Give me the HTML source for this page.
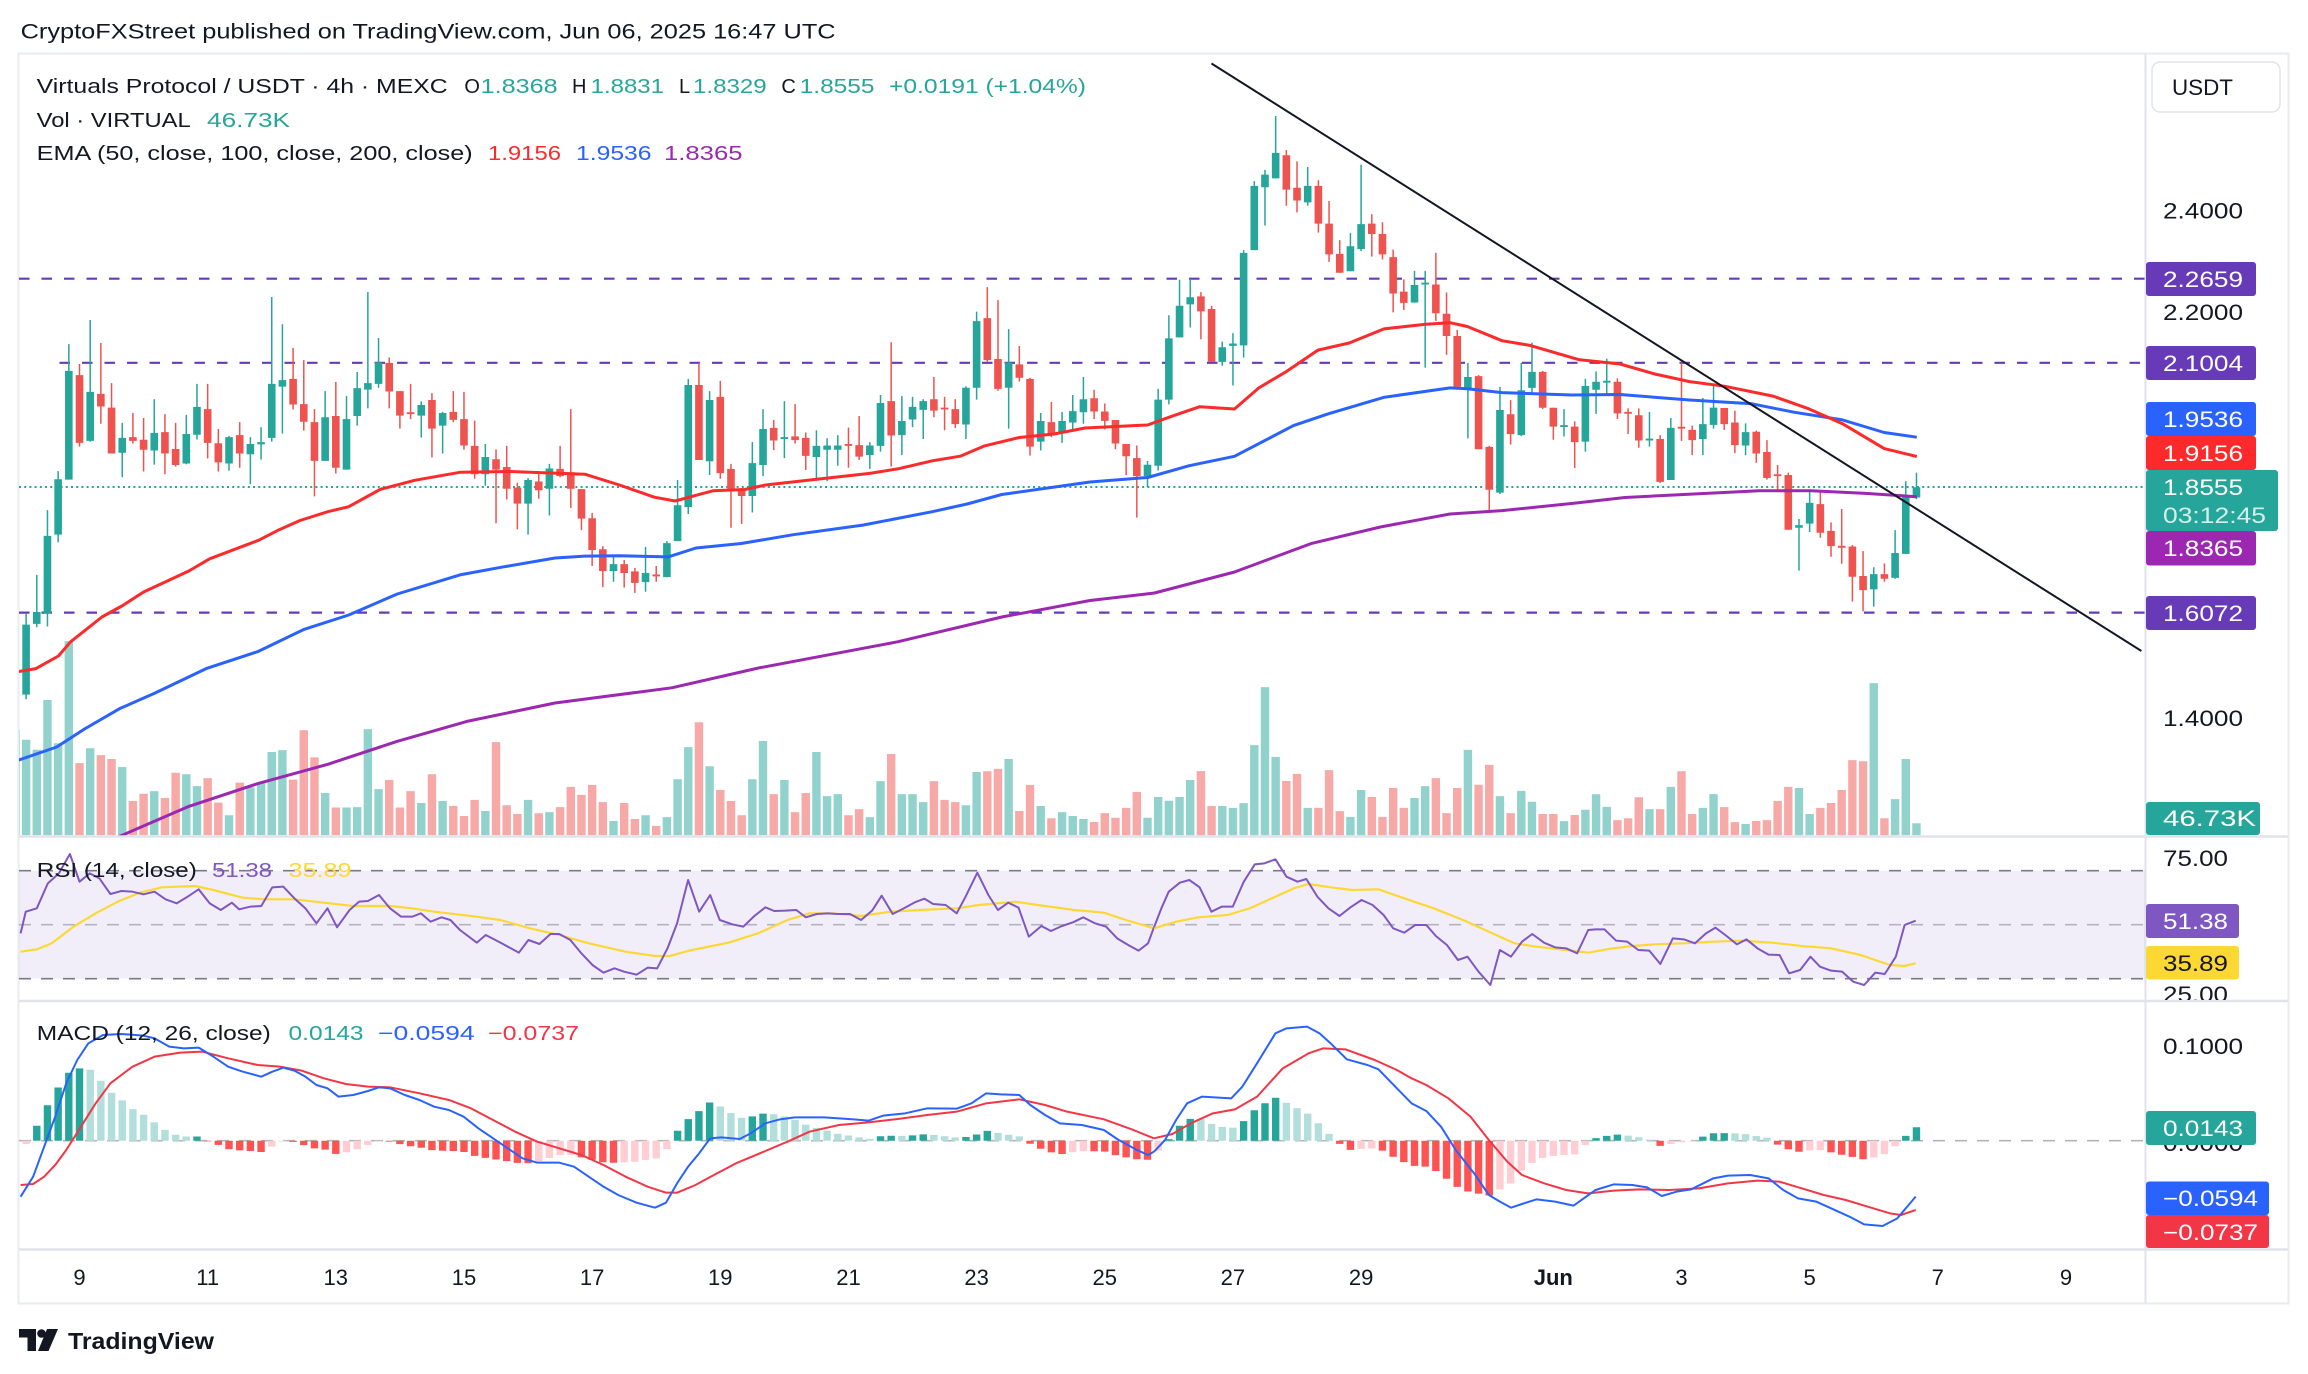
<!DOCTYPE html>
<html><head><meta charset="utf-8">
<style>
html,body{margin:0;padding:0;background:#fff;}
svg{display:block;}
text{font-family:"Liberation Sans",Arial,sans-serif;}
.ns{vector-effect:non-scaling-stroke;fill:none;}
</style></head>
<body>
<svg width="2308" height="1374" viewBox="0 0 2308 1374" xmlns="http://www.w3.org/2000/svg">
<defs>
<clipPath id="cm"><rect x="19" y="54" width="2126" height="782"/></clipPath>
<clipPath id="cr"><rect x="19" y="838" width="2126" height="162"/></clipPath>
<clipPath id="cd"><rect x="19" y="1002" width="2126" height="246"/></clipPath>
<clipPath id="cra"><rect x="2146" y="838" width="142" height="162"/></clipPath>
</defs>
<rect width="2308" height="1374" fill="#fff"/>
<text x="20.6" y="38.5" font-size="21" textLength="815" lengthAdjust="spacingAndGlyphs" fill="#131722">CryptoFXStreet published on TradingView.com, Jun 06, 2025 16:47 UTC</text>

<rect x="18.5" y="53.5" width="2270" height="1250" fill="none" stroke="#e9ebf0" stroke-width="2"/>
<line x1="2145.5" y1="54" x2="2145.5" y2="1303" stroke="#e0e3eb" stroke-width="2"/>

<!-- RSI band -->
<rect x="19" y="870.7" width="2126" height="108" fill="#7e57c2" fill-opacity="0.1"/>
<line x1="19" y1="870.7" x2="2145" y2="870.7" stroke="#787b86" stroke-width="1.6" stroke-dasharray="12 10"/>
<line x1="19" y1="924.7" x2="2145" y2="924.7" stroke="#b2b5be" stroke-width="1.6" stroke-dasharray="12 10"/>
<line x1="19" y1="978.7" x2="2145" y2="978.7" stroke="#787b86" stroke-width="1.6" stroke-dasharray="12 10"/>
<line x1="19" y1="1140.7" x2="2145" y2="1140.7" stroke="#b2b5be" stroke-width="1.6" stroke-dasharray="12 10"/>

<g clip-path="url(#cm)">
 <!-- volume -->
 <g transform="translate(26.1,240) scale(10.68,0.3827)">
  <path class="ns" stroke="#92d2cc" stroke-width="8.4" d="M-1 1280V1555M0 1306V1555M1 1332V1555M2 1202V1555M3 1315V1555M4 1048V1555M6 1328V1555M9 1377V1555M12 1440V1555M15 1396V1555M16 1427V1555M19 1503V1555M21 1430V1555M22 1418V1555M23 1338V1555M24 1333V1555M28 1445V1555M30 1483V1555M31 1482V1555M32 1278V1555M33 1435V1555M37 1471V1555M39 1466V1555M43 1492V1555M47 1463V1555M49 1495V1555M55 1518V1555M58 1503V1555M60 1508V1555M61 1409V1555M62 1325V1555M64 1375V1555M68 1409V1555M69 1309V1555M71 1411V1555M74 1338V1555M75 1453V1555M76 1448V1555M79 1508V1555M80 1414V1555M82 1448V1555M83 1448V1555M84 1469V1555M88 1477V1555M89 1390V1555M92 1356V1555M95 1479V1555M97 1495V1555M98 1505V1555M99 1513V1555M152 1487V1555M154 1429V1555M157 1484V1555M158 1448V1555M161 1526V1555M166 1432V1555M167 1500V1555M173 1158V1555M175 1461V1555M176 1356V1555M177 1524V1555"/>
  <path class="ns" stroke="#f7a9a7" stroke-width="8.4" d="M5 1367V1555M7 1346V1555M8 1356V1555M10 1466V1555M11 1447V1555M13 1458V1555M14 1392V1555M17 1406V1555M18 1470V1555M20 1418V1555M25 1410V1555M26 1281V1555M27 1352V1555M29 1483V1555M34 1411V1555M35 1483V1555M36 1440V1555M38 1396V1555M40 1479V1555M41 1505V1555M42 1463V1555M44 1312V1555M45 1477V1555M46 1500V1555M48 1498V1555M50 1482V1555M51 1429V1555M52 1450V1555M53 1424V1555M54 1469V1555M56 1471V1555M57 1513V1555M59 1531V1555M63 1260V1555M65 1437V1555M66 1466V1555M67 1503V1555M70 1448V1555M72 1495V1555M73 1445V1555M77 1503V1555M78 1487V1555M81 1343V1555M85 1414V1555M86 1463V1555M87 1469V1555M90 1388V1555M91 1382V1555M93 1492V1555M94 1424V1555M96 1511V1555M150 1511V1555M151 1456V1555M153 1487V1555M155 1388V1555M156 1500V1555M159 1482V1555M160 1521V1555M162 1518V1555M163 1516V1555M164 1466V1555M165 1429V1555M168 1484V1555M169 1471V1555M170 1437V1555M171 1359V1555M172 1362V1555M174 1511V1555"/>
 </g>
 <g transform="translate(26.1,100) scale(10.68,0.47192)">
  <path class="ns" stroke="#92d2cc" stroke-width="8.4" d="M105 1521V1558M106 1477V1558M107 1485V1558M108 1477V1558M109 1441V1558M112 1496V1558M113 1500V1558M114 1490V1558M115 1367V1558M116 1244V1558M117 1392V1558M120 1500V1558M124 1519V1558M125 1462V1558M130 1479V1558M131 1454V1558M135 1377V1558M138 1475V1558M140 1464V1558M141 1487V1558M144 1528V1558M146 1504V1558M147 1471V1558M148 1498V1558"/>
  <path class="ns" stroke="#f7a9a7" stroke-width="8.4" d="M100 1530V1558M101 1511V1558M102 1521V1558M103 1500V1558M104 1466V1558M110 1422V1558M111 1496V1558M118 1443V1558M119 1428V1558M121 1500V1558M122 1420V1558M123 1507V1558M126 1477V1558M127 1519V1558M128 1458V1558M129 1500V1558M132 1437V1558M133 1511V1558M134 1458V1558M136 1451V1558M137 1409V1558M139 1511V1558M142 1513V1558M143 1513V1558M145 1515V1558M149 1526V1558"/>
 </g>

 <line x1="19" y1="278.7" x2="2145" y2="278.7" stroke="#673ab7" stroke-width="2.2" stroke-dasharray="10.5 12"/>
 <line x1="59.5" y1="362.8" x2="2145" y2="362.8" stroke="#673ab7" stroke-width="2.2" stroke-dasharray="10.5 12"/>
 <line x1="19" y1="612.6" x2="2145" y2="612.6" stroke="#673ab7" stroke-width="2.2" stroke-dasharray="10.5 12"/>
 <line x1="19" y1="487" x2="2145" y2="487" stroke="#26a69a" stroke-width="2" stroke-dasharray="2 3.2"/>

 <!-- candles -->
 <g transform="translate(26.1,240) scale(10.68,0.3827)">
  <path class="ns" stroke="#26a69a" stroke-width="1.5" d="M0 975V1200M1 875V1012M2 706V1010M3 604V790M4 272V626M6 209V527M9 478V620M12 416V587M15 457V586M16 376V521M19 512V603M21 515V638M22 489V574M23 149V527M24 220V506M28 395V577M30 408V600M31 345V485M32 136V440M33 256V386M37 422V516M39 449V558M43 533V642M47 622V770M49 585V720M55 828V893M58 802V919M60 787V881M61 627V787M62 363V716M64 395V614M68 528V712M69 442V617M71 421V570M74 497V630M75 518V630M76 510V590M79 528V598M80 405V553M82 408V562M83 410V489M84 416V520M88 382V520M89 187V417M92 233V493M95 452V550M97 449V530M98 405V500M99 358V480M152 449V540M154 465V627M157 413V562M158 380V493M161 479V562M166 729V864M167 656V763M173 855V958M175 758V885M176 630V820M177 608V677"/>
  <path class="ns" stroke="#26a69a" stroke-width="7.6" d="M0 1005V1188M1 972V1003M2 773V976M3 625V770M4 342V626M6 397V525M9 517V556M12 504V550M15 507V584M16 436V509M19 515V584M21 533V560M22 528V534M23 376V517M24 366V383M28 463V577M30 468V600M31 387V460M32 374V391M33 320V376M37 431V459M39 452V485M43 567V612M47 627V689M49 597V650M55 847V865M58 870V894M60 792V881M61 693V787M62 379V698M64 418V578M68 583V669M69 494V588M71 515V520M74 538V567M75 537V548M76 537V548M79 537V562M80 426V538M82 473V510M83 436V469M84 421V444M88 386V482M89 212V386M92 320V386M95 473V527M97 473V502M98 447V477M99 416V450M152 519V524M154 491V627M157 481V520M158 438V483M161 502V537M166 745V752M167 687V741M173 873V913M175 818V883M176 672V820M177 646V673"/>
  <path class="ns" stroke="#ef5350" stroke-width="1.5" d="M5 324V540M7 269V480M8 374V558M10 452V532M11 465V605M13 455V612M14 478V592M17 376V571M18 494V605M20 476V595M25 282V443M26 314V498M27 442V670M29 371V610M34 307V440M35 395V493M36 376V468M38 400V568M40 395V476M41 397V548M42 472V624M44 547V740M45 538V678M46 634V756M48 604V676M50 538V620M51 442V700M52 651V758M53 713V852M54 800V907M56 836V908M57 857V922M59 852V893M63 321V575M65 368V624M66 585V752M67 648V742M70 470V549M72 429V532M73 503V601M77 490V595M78 460V575M81 267V592M85 358V463M86 410V497M87 416V491M90 123V318M91 157V394M93 277V370M94 360V563M96 423V515M150 440V507M151 440V543M153 510V635M155 320V525M156 485V562M159 439V496M160 446V557M162 498V582M163 523V626M164 588V656M165 608V757M168 655V778M169 738V828M170 703V846M171 797V945M172 813V970M174 845V893"/>
  <path class="ns" stroke="#ef5350" stroke-width="7.6" d="M5 353V530M7 402V435M8 438V558M10 515V525M11 522V548M13 502V558M14 546V588M17 442V530M18 531V581M20 510V558M25 363V430M26 429V475M27 476V577M29 460V595M34 321V396M35 395V459M36 450V455M38 418V493M40 449V470M41 468V537M42 538V612M44 573V600M45 593V650M46 647V689M48 631V654M50 598V617M51 607V650M52 651V728M53 727V810M54 808V865M56 847V870M57 866V896M59 874V879M63 379V575M65 410V609M66 598V650M67 650V669M70 491V524M72 513V523M73 517V564M77 533V538M78 536V566M81 421V511M85 416V446M86 438V443M87 442V481M90 204V314M91 311V389M93 325V360M94 363V540M96 476V507M150 449V454M151 458V524M153 520V632M155 488V493M156 496V523M159 439V481M160 477V536M162 501V558M163 554V622M164 612V617M165 614V757M168 690V765M169 760V800M170 799V804M171 801V880M172 878V915M174 873V885"/>
 </g>
 <g transform="translate(26.1,100) scale(10.68,0.47192)">
  <path class="ns" stroke="#26a69a" stroke-width="1.5" d="M105 765V820M106 612V785M107 456V645M108 381V503M109 379V482M112 512V563M113 494V605M114 318V546M115 172V318M116 148V266M117 34V166M120 142V224M124 282V363M125 137V320M130 362V430M131 362V567M135 557V717M138 608V835M140 557V712M141 514V620M144 655V713M146 591V745M147 575V665M148 548V625"/>
  <path class="ns" stroke="#26a69a" stroke-width="7.6" d="M105 773V797M106 635V775M107 505V635M108 436V503M109 418V433M112 524V555M113 516V521M114 324V520M115 182V318M116 158V185M117 112V166M120 182V217M124 310V363M125 263V316M130 392V429M131 387V391M135 587V610M138 657V832M140 615V710M141 576V610M144 689V693M146 606V724M147 597V614M148 595V599"/>
  <path class="ns" stroke="#ef5350" stroke-width="1.5" d="M100 614V676M101 643V698M102 678V740M103 729V795M104 732V885M110 407V507M111 436V555M118 106V224M119 130V238M121 170V281M122 214V343M123 297V366M126 242V332M127 259V338M128 317V450M129 380V445M132 324V468M133 408V540M134 487V608M136 583V740M137 733V872M139 636V730M142 574V655M143 652V720M145 681V780M149 590V676"/>
  <path class="ns" stroke="#ef5350" stroke-width="7.6" d="M100 632V660M101 660V680M102 678V728M103 729V755M104 759V797M110 416V448M111 443V555M118 117V190M119 186V213M121 182V262M122 262V327M123 326V366M126 262V284M127 284V327M128 333V410M129 406V430M132 391V452M133 453V500M134 500V608M136 585V740M137 735V826M139 666V708M142 576V652M143 652V692M145 692V725M149 597V664"/>
 </g>

 <!-- EMAs -->
 <polyline fill="none" stroke="#9c27b0" stroke-width="3" stroke-linejoin="round" points="0,880 19,878 60,862 122.7,835 188.8,806.4 258.3,783.4 327.8,764.3 397.3,741.3 466.9,721.4 555,703 671.7,687.8 758.5,668 897.6,641.8 1001.8,617 1090,600.5 1154.5,593 1234.5,572 1311,543.6 1380.4,527 1450,514 1502,510.6 1571.6,503.5 1625,497.5 1759,490.7 1811,490.7 1863.3,493.3 1916.8,496.7"/>
 <polyline fill="none" stroke="#2962ff" stroke-width="3" stroke-linejoin="round" points="15,761 19,760 56.7,747 84.5,729 119.3,708.8 154,693.5 206.2,668.6 258.3,651.4 303.5,629.6 348.7,615 397.3,594 459.9,574.9 501.6,567.2 555,558 584.8,556.1 619.5,555.7 668.2,556.9 696,548 741.2,543.5 793.3,534.7 862.8,525.1 932.3,511.7 967.1,504 1001.8,494.5 1090,482 1147.6,477.5 1189.3,465.7 1234.5,456.3 1293.5,425.6 1328.3,413.8 1384,397.3 1450,387.9 1467.3,388.8 1502,392.6 1571.6,395 1620,394.5 1689.5,400 1752,403.8 1793.8,412.2 1842.5,419.9 1884.2,432.5 1916.8,437.2"/>
 <polyline fill="none" stroke="#fc2a2a" stroke-width="3" stroke-linejoin="round" points="15,672 19,671.5 35.9,668.6 58.4,656 70.6,641.8 101.9,617 122.7,605.5 143.6,592 188.8,571 209.6,558.8 258.3,540.4 279.2,529.7 300,520.5 327.8,511.7 348.7,506.7 380,489.5 414.7,480.3 459.9,472.3 510,471.5 550,473 584.8,474.2 619.5,485 654.3,497.2 675.1,501 696,495.3 713.4,490.7 744.6,489.5 765.5,485 828,478 869.8,473.4 897.6,468.9 932.3,460.8 960.2,456.2 984.5,445.9 1019.2,437.5 1054,434 1085,428 1147.6,425 1172,416.2 1199.7,406.7 1234.5,409 1258.8,387.9 1286.6,371.4 1317.9,350.1 1349.2,343 1384,328.9 1425.6,324.2 1450,322.7 1467.3,326.5 1502,340.7 1530,345.4 1578.6,359.6 1620,364 1654.8,374 1689.5,381.6 1724.3,386.2 1773,396.1 1807.7,408.4 1842.5,423.7 1884.2,448.6 1916.8,456.5"/>
 <line x1="1211.5" y1="63.5" x2="2141.4" y2="651" stroke="#131722" stroke-width="2"/>
</g>

<!-- RSI -->
<g clip-path="url(#cr)">
 <g transform="translate(0,830) scale(0.73594,0.33333)">
  <polyline class="ns" stroke="#fdd835" stroke-width="2.2" stroke-linejoin="round" points="28,365 50,358 70,340 100,290 130,250 160,215 190,188 220,172 265,168 290,180 330,203 360,208 400,208 440,218 480,228 530,228 560,235 590,245 640,258 680,270 720,295 760,315 800,340 850,365 890,378 910,378 940,360 990,338 1030,310 1070,270 1100,250 1130,250 1170,258 1210,245 1250,240 1300,235 1330,225 1380,215 1410,225 1460,240 1500,248 1530,270 1568,295"/>
  <polyline class="ns" stroke="#7e57c2" stroke-width="2" stroke-linejoin="round" points="28,310 35,245 50,235 65,160 80,130 95,72 108,155 122,130 135,145 150,192 165,183 180,185 195,193 210,185 225,208 240,220 255,200 270,178 285,220 300,240 315,218 325,238 340,230 355,228 370,172 385,170 400,205 415,235 430,280 445,235 458,292 475,240 488,215 500,213 515,195 530,235 545,260 560,260 572,250 585,275 600,262 612,270 625,300 648,338 660,315 680,338 705,368 718,330 733,342 748,312 760,312 775,330 790,370 805,405 820,428 835,415 848,425 865,434 880,413 893,415 907,355 920,280 935,150 950,245 965,195 978,270 995,283 1010,290 1025,258 1040,232 1052,243 1067,242 1082,240 1095,262 1110,252 1125,250 1138,252 1155,252 1170,270 1185,242 1198,197 1213,252 1228,235 1243,217 1256,206 1268,222 1285,225 1300,250 1312,200 1328,128 1343,195 1356,240 1370,218 1384,233 1398,320 1415,288 1428,303 1443,288 1458,277 1472,262 1488,280 1503,290 1518,325 1533,345 1547,362 1560,340 1568,292"/>
 </g>
 <g transform="translate(1154,830) scale(0.73594,0.33333)">
  <polyline class="ns" stroke="#fdd835" stroke-width="2.2" stroke-linejoin="round" points="0,295 30,275 60,262 100,255 130,235 160,205 190,175 210,162 240,172 270,180 305,178 340,205 380,235 420,270 460,310 490,340 520,350 560,360 590,368 620,356 650,348 680,343 720,340 760,335 800,332 840,338 880,348 920,355 960,375 1000,405 1020,408 1035,400"/>
  <polyline class="ns" stroke="#7e57c2" stroke-width="2" stroke-linejoin="round" points="0,292 10,235 20,185 35,158 48,150 62,172 78,245 92,230 107,230 122,155 137,103 150,100 165,88 180,140 195,155 207,147 222,200 237,235 252,258 267,232 282,210 297,225 312,255 325,295 340,308 355,285 370,285 383,318 398,345 413,390 426,380 441,425 457,465 470,360 485,380 500,335 514,312 530,338 545,352 560,355 575,370 590,300 600,298 612,298 628,332 643,335 658,360 673,362 688,402 705,325 720,328 735,340 750,310 763,293 778,318 792,343 805,328 820,355 835,374 850,375 863,430 878,420 892,380 905,410 920,422 935,425 950,455 965,465 980,428 993,432 1008,380 1020,285 1035,272"/>
 </g>
</g>

<!-- MACD -->
<g clip-path="url(#cd)">
 <g transform="translate(26.1,1140.7) scale(10.68,0.33333)">
  <path class="ns" stroke="#26a69a" stroke-width="7.4" d="M1 0V-44.7M2 0V-106.5M3 0V-159.7M4 0V-204M5 0V-217M16 0V-12.6M61 0V-29.7M62 0V-64.7M63 0V-88.7M64 0V-114.7M68 0V-72.8M69 0V-81.2M80 0V-13.3M81 0V-14.9M83 0V-16M84 0V-18.9M88 0V-11.1M89 0V-18.6M90 0V-29.4M107 0V-4.6M108 0V-44.8M109 0V-65.3M114 0V-58.9M115 0V-91.2M116 0V-112.5M117 0V-129M147 0V-7.9M148 0V-14.5M149 0V-18.1M157 0V-12.2M158 0V-22.5M159 0V-22.9M176 0V-14.4M177 0V-40.5"/>
  <path class="ns" stroke="#b2dfdb" stroke-width="7.4" d="M6 0V-213M7 0V-180M8 0V-143.7M9 0V-121M10 0V-94.8M11 0V-77.9M12 0V-55M13 0V-32.6M14 0V-18M15 0V-12.5M65 0V-102.5M66 0V-83.1M67 0V-69M70 0V-79.3M71 0V-72.7M72 0V-62.6M73 0V-48.1M74 0V-38.3M75 0V-30.4M76 0V-21M77 0V-15.5M78 0V-10M79 0V-6M82 0V-14.6M85 0V-17.6M86 0V-13.5M87 0V-9.5M91 0V-23.3M92 0V-18M93 0V-13M110 0V-65M111 0V-50.4M112 0V-41.6M113 0V-39.1M118 0V-113.7M119 0V-97.9M120 0V-81.1M121 0V-52.2M122 0V-20.4M150 0V-15.3M151 0V-10.2M152 0V-3M160 0V-21.8M161 0V-19.9M162 0V-14.1M163 0V-9.2"/>
  <path class="ns" stroke="#ff5252" stroke-width="7.4" d="M17 0V2M18 0V12.6M19 0V25.3M20 0V28.9M21 0V31M22 0V34M25 0V3.7M26 0V13.3M27 0V23.2M28 0V26.9M29 0V39.5M34 0V2.8M35 0V10.3M36 0V16.5M37 0V21.2M38 0V28.4M39 0V30M40 0V31M41 0V33.8M42 0V45.5M43 0V51.5M44 0V56.3M45 0V61.2M46 0V66.5M47 0V67.3M52 0V50M53 0V57.3M54 0V64.6M55 0V66M94 0V9.3M95 0V24.1M96 0V35.1M97 0V40M100 0V31.5M101 0V32.8M102 0V43.1M103 0V50.2M104 0V55.5M105 0V57.1M123 0V9.4M124 0V27.5M127 0V29.7M128 0V48.3M129 0V64.3M130 0V75.6M131 0V77.7M132 0V91M133 0V114.2M134 0V138.4M135 0V152.4M136 0V158.7M137 0V164.5M153 0V15.5M164 0V11.8M165 0V25.6M166 0V33M169 0V34.9M170 0V42.1M171 0V48.6M172 0V55.6"/>
  <path class="ns" stroke="#ffcdd2" stroke-width="7.4" d="M0 0V9.8M23 0V17.6M24 0V2.5M30 0V35.1M31 0V25.7M32 0V13M33 0V2M48 0V61.6M49 0V51.9M50 0V43M51 0V42M56 0V64.6M57 0V63.2M58 0V58.1M59 0V52.9M60 0V25.4M98 0V34.5M99 0V30.9M106 0V30.1M125 0V24.7M126 0V23.3M138 0V146.2M139 0V128.5M140 0V90M141 0V66.4M142 0V51.9M143 0V46M144 0V42.8M145 0V40.9M146 0V13.4M154 0V10.4M155 0V4.8M156 0V2M167 0V29.1M168 0V28.4M173 0V50.3M174 0V40.2M175 0V16.7"/>
 </g>
 <g transform="translate(0,830) scale(0.73594,0.33333)">
  <polyline class="ns" stroke="#f23645" stroke-width="2" stroke-linejoin="round" points="28,1065 45,1062 60,1040 75,1005 90,960 110,890 130,820 150,760 180,710 210,680 245,668 275,665 310,685 350,705 380,710 410,722 440,745 470,762 500,770 530,772 570,790 610,810 640,835 670,870 700,905 730,935 760,955 790,975 820,1005 850,1040 880,1070 905,1088 920,1088 945,1065 970,1035 1000,1000 1040,963 1070,935 1100,905 1140,885 1180,877 1220,867 1260,855 1300,845 1340,820 1385,808 1420,825 1450,845 1500,868 1540,900 1568,925"/>
  <polyline class="ns" stroke="#2962ff" stroke-width="2" stroke-linejoin="round" points="28,1100 45,1040 60,950 75,860 90,760 105,690 120,640 140,615 165,612 195,617 210,625 230,650 250,655 270,653 290,680 310,710 330,725 355,740 370,725 385,713 400,722 415,740 430,765 445,775 460,800 480,795 500,783 515,772 530,775 550,795 570,810 590,830 610,840 630,860 650,895 670,925 690,955 710,985 730,998 760,998 780,1010 800,1040 820,1070 840,1095 865,1118 890,1133 905,1118 920,1060 935,1010 950,970 965,925 980,922 1005,927 1020,910 1040,880 1060,868 1080,862 1120,862 1160,868 1180,872 1200,857 1230,850 1260,835 1300,836 1320,820 1340,790 1360,793 1385,795 1400,825 1420,855 1440,880 1470,885 1500,900 1520,930 1545,960 1560,975 1568,965"/>
 </g>
 <g transform="translate(1154,830) scale(0.73594,0.33333)">
  <polyline class="ns" stroke="#f23645" stroke-width="2" stroke-linejoin="round" points="0,925 25,912 50,880 80,850 110,838 140,800 175,715 210,670 230,655 260,658 300,690 330,720 350,745 370,765 400,805 430,860 455,930 480,995 500,1035 530,1060 560,1080 590,1090 625,1082 660,1078 700,1080 740,1075 780,1060 820,1052 850,1055 880,1075 910,1095 940,1110 970,1130 1000,1150 1015,1155 1035,1140"/>
  <polyline class="ns" stroke="#2962ff" stroke-width="2" stroke-linejoin="round" points="0,965 15,930 30,870 45,820 65,800 105,805 120,770 140,700 165,610 180,595 208,590 225,610 240,640 262,688 290,705 305,718 330,775 350,820 370,843 390,890 410,960 435,1030 455,1095 470,1115 485,1133 500,1122 520,1108 545,1115 570,1127 600,1080 625,1063 650,1065 670,1072 690,1098 710,1085 730,1078 760,1045 780,1037 810,1035 835,1045 855,1080 875,1105 900,1115 920,1135 945,1160 965,1183 990,1188 1010,1165 1035,1100"/>
 </g>
</g>

<line x1="19" y1="836.5" x2="2288" y2="836.5" stroke="#e0e3eb" stroke-width="2.5"/>
<line x1="19" y1="1001" x2="2288" y2="1001" stroke="#e0e3eb" stroke-width="2.5"/>
<line x1="19" y1="1249.5" x2="2288" y2="1249.5" stroke="#e0e3eb" stroke-width="2.5"/>

<!-- legends -->
<g font-size="20" fill="#131722">
<text x="36.7" y="93" textLength="411" lengthAdjust="spacingAndGlyphs">Virtuals Protocol / USDT · 4h · MEXC</text>
<text x="464.4" y="93">O</text><text x="480.6" y="93" fill="#26a69a" textLength="77" lengthAdjust="spacingAndGlyphs">1.8368</text>
<text x="572" y="93">H</text><text x="590.6" y="93" fill="#26a69a" textLength="73.4" lengthAdjust="spacingAndGlyphs">1.8831</text>
<text x="679" y="93">L</text><text x="693" y="93" fill="#26a69a" textLength="73.7" lengthAdjust="spacingAndGlyphs">1.8329</text>
<text x="781.4" y="93">C</text><text x="799.7" y="93" fill="#26a69a" textLength="74.8" lengthAdjust="spacingAndGlyphs">1.8555</text>
<text x="889" y="93" fill="#26a69a" textLength="197" lengthAdjust="spacingAndGlyphs">+0.0191 (+1.04%)</text>
<text x="36.7" y="127" textLength="154" lengthAdjust="spacingAndGlyphs">Vol · VIRTUAL</text>
<text x="207" y="127" fill="#26a69a" textLength="83" lengthAdjust="spacingAndGlyphs">46.73K</text>
<text x="36.7" y="160" textLength="436" lengthAdjust="spacingAndGlyphs">EMA (50, close, 100, close, 200, close)</text>
<text x="488" y="160" fill="#fc2a2a" textLength="73" lengthAdjust="spacingAndGlyphs">1.9156</text>
<text x="576" y="160" fill="#2962ff" textLength="75.5" lengthAdjust="spacingAndGlyphs">1.9536</text>
<text x="664" y="160" fill="#9c27b0" textLength="78.5" lengthAdjust="spacingAndGlyphs">1.8365</text>
<text x="36.8" y="877" textLength="160" lengthAdjust="spacingAndGlyphs">RSI (14, close)</text>
<text x="212" y="877" fill="#7e57c2" textLength="60" lengthAdjust="spacingAndGlyphs">51.38</text>
<text x="288.5" y="877" fill="#fdd835" textLength="63" lengthAdjust="spacingAndGlyphs">35.89</text>
<text x="36.8" y="1040" textLength="234" lengthAdjust="spacingAndGlyphs">MACD (12, 26, close)</text>
<text x="288.5" y="1040" fill="#26a69a" textLength="75" lengthAdjust="spacingAndGlyphs">0.0143</text>
<text x="378" y="1040" fill="#2962ff" textLength="96.6" lengthAdjust="spacingAndGlyphs">−0.0594</text>
<text x="488" y="1040" fill="#f23645" textLength="91" lengthAdjust="spacingAndGlyphs">−0.0737</text>
</g>

<!-- price axis -->
<rect x="2152" y="62" width="128" height="50" rx="8" fill="#fff" stroke="#e0e3eb" stroke-width="1.5"/>
<g font-size="22" fill="#131722">
<text x="2172" y="95" textLength="61" lengthAdjust="spacingAndGlyphs">USDT</text>
<text x="2163" y="218.4" textLength="80" lengthAdjust="spacingAndGlyphs">2.4000</text>
<text x="2163" y="320" textLength="80" lengthAdjust="spacingAndGlyphs">2.2000</text>
<text x="2163" y="726" textLength="80" lengthAdjust="spacingAndGlyphs">1.4000</text>
<text x="2163" y="866" textLength="65" lengthAdjust="spacingAndGlyphs">75.00</text>
<text x="2163" y="1002" textLength="65" lengthAdjust="spacingAndGlyphs" clip-path="url(#cra)">25.00</text>
<text x="2163" y="1054" textLength="80" lengthAdjust="spacingAndGlyphs">0.1000</text>
<text x="2163" y="1151" textLength="80" lengthAdjust="spacingAndGlyphs">0.0000</text>
</g>
<g font-size="22" fill="#fff">
<rect x="2146" y="262" width="110" height="34" rx="3" fill="#673ab7"/>
<text x="2163" y="287" textLength="80" lengthAdjust="spacingAndGlyphs">2.2659</text>
<rect x="2146" y="346" width="110" height="34" rx="3" fill="#673ab7"/>
<text x="2163" y="371" textLength="80" lengthAdjust="spacingAndGlyphs">2.1004</text>
<rect x="2146" y="402" width="110" height="34" rx="3" fill="#2962ff"/>
<text x="2163" y="427" textLength="80" lengthAdjust="spacingAndGlyphs">1.9536</text>
<rect x="2146" y="436" width="110" height="34" rx="3" fill="#fc2a2a"/>
<text x="2163" y="461" textLength="80" lengthAdjust="spacingAndGlyphs">1.9156</text>
<rect x="2146" y="470" width="132" height="61" rx="3" fill="#26a69a"/>
<text x="2163" y="495" textLength="80" lengthAdjust="spacingAndGlyphs">1.8555</text>
<text x="2163" y="523" fill="#d4eeeb" textLength="103" lengthAdjust="spacingAndGlyphs">03:12:45</text>
<rect x="2146" y="531" width="110" height="34.5" rx="3" fill="#9c27b0"/>
<text x="2163" y="556" textLength="80" lengthAdjust="spacingAndGlyphs">1.8365</text>
<rect x="2146" y="596" width="110" height="34" rx="3" fill="#673ab7"/>
<text x="2163" y="621" textLength="80" lengthAdjust="spacingAndGlyphs">1.6072</text>
<rect x="2146" y="802" width="114" height="33" rx="3" fill="#26a69a"/>
<text x="2163" y="826" textLength="93" lengthAdjust="spacingAndGlyphs">46.73K</text>
<rect x="2146" y="904" width="93" height="34" rx="3" fill="#7e57c2"/>
<text x="2163" y="929" textLength="65" lengthAdjust="spacingAndGlyphs">51.38</text>
<rect x="2146" y="946" width="93" height="33.5" rx="3" fill="#fdd835"/>
<text x="2163" y="971" fill="#131722" textLength="65" lengthAdjust="spacingAndGlyphs">35.89</text>
<rect x="2146" y="1111" width="110" height="34" rx="3" fill="#26a69a"/>
<text x="2163" y="1136" textLength="80" lengthAdjust="spacingAndGlyphs">0.0143</text>
<rect x="2146" y="1181.5" width="123" height="33.5" rx="3" fill="#2962ff"/>
<text x="2163" y="1206" textLength="95" lengthAdjust="spacingAndGlyphs">−0.0594</text>
<rect x="2146" y="1215" width="123" height="33" rx="3" fill="#f23645"/>
<text x="2163" y="1240" textLength="95" lengthAdjust="spacingAndGlyphs">−0.0737</text>
</g>

<!-- time axis -->
<g font-size="22" fill="#131722" text-anchor="middle">
<text x="79.5" y="1285">9</text>
<text x="207.7" y="1285">11</text>
<text x="335.8" y="1285">13</text>
<text x="464" y="1285">15</text>
<text x="592.1" y="1285">17</text>
<text x="720.3" y="1285">19</text>
<text x="848.5" y="1285">21</text>
<text x="976.6" y="1285">23</text>
<text x="1104.8" y="1285">25</text>
<text x="1232.9" y="1285">27</text>
<text x="1361.1" y="1285">29</text>
<text x="1553.3" y="1285" font-weight="bold">Jun</text>
<text x="1681.5" y="1285">3</text>
<text x="1809.6" y="1285">5</text>
<text x="1937.8" y="1285">7</text>
<text x="2066" y="1285">9</text>
</g>

<!-- TradingView logo -->
<g fill="#131722">
<path d="M19,1329 H36 V1351 H27.5 V1337.5 H19 Z"/>
<circle cx="41.5" cy="1333.5" r="4.3"/>
<path d="M47,1329 H58 L48.5,1351 H38 Z"/>
</g>
<text x="68" y="1349" font-size="23" font-weight="bold" fill="#131722" textLength="146" lengthAdjust="spacingAndGlyphs">TradingView</text>
</svg>
</body></html>
